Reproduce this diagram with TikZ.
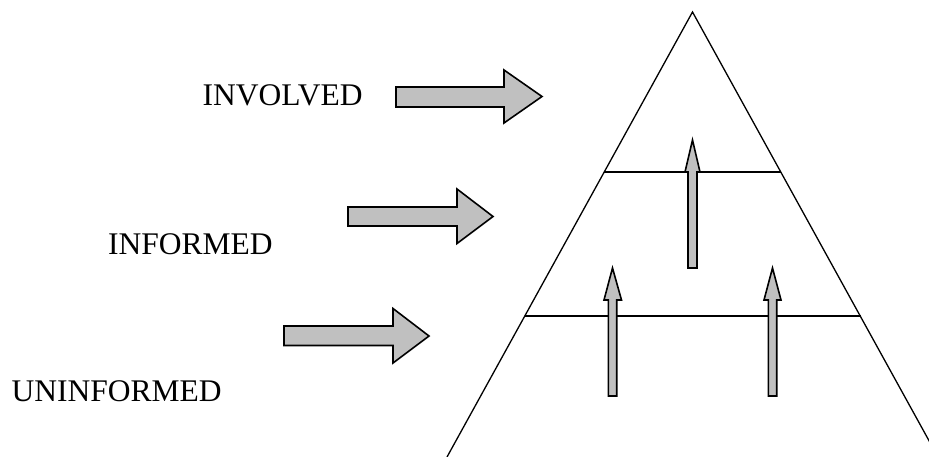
\documentclass[tikz,border=0pt]{standalone}
\usepackage{fontspec}
\setmainfont{Liberation Serif}
\definecolor{arrowgray}{HTML}{C0C0C0}
\tikzset{
  blockarrow/.style={draw=black, fill=arrowgray, line width=1.6pt, line join=miter},
  level/.style={draw=black, line width=1.3pt},
  tierlabel/.style={anchor=base west, inner sep=0pt, font=\fontsize{31.5}{36}\selectfont},
}
\begin{document}
\begin{tikzpicture}[x=1pt,y=-1pt]
\useasboundingbox (0,0) rectangle (929,457);

% pyramid outline and the two tier boundaries
\begin{scope}
  \clip (0,0) rectangle (929,457);
  \coordinate (apex) at (692.5,12);
  \coordinate (baseL) at (447,457);
  \coordinate (baseR) at (938,457);
  \draw[level] (baseL) -- (apex) -- (baseR);
  \coordinate (t1L) at (603.8,172);
  \coordinate (t1R) at (781.2,172);
  \coordinate (t2L) at (524.5,316);
  \coordinate (t2R) at (860.5,316);
  \draw[level] (t1L) -- (t1R);
  \draw[level] (t2L) -- (t2R);
\end{scope}

% block arrows pointing into the pyramid
\draw[blockarrow] (396,87) -- (504,87) -- (504,70) -- (542,96.5) -- (504,123) -- (504,107) -- (396,107) -- cycle;
\draw[blockarrow] (348,207) -- (457,207) -- (457,189) -- (493,216.5) -- (457,243.5) -- (457,226) -- (348,226) -- cycle;
\draw[blockarrow] (284,326) -- (393,326) -- (393,308.5) -- (429,336) -- (393,363) -- (393,345.5) -- (284,345.5) -- cycle;

% upward arrows between tiers
\draw[blockarrow] (688,268) -- (688,172) -- (685,172) -- (692.5,140) -- (700,172) -- (697,172) -- (697,268) -- cycle;
\draw[blockarrow] (608.3,396) -- (608.3,300) -- (604,300) -- (612.5,268) -- (621.5,300) -- (616.7,300) -- (616.7,396) -- cycle;
\draw[blockarrow] (768.3,396) -- (768.3,300) -- (764,300) -- (772.5,268) -- (781,300) -- (776.7,300) -- (776.7,396) -- cycle;

% tier labels
\node[tierlabel] (involved) at (202.5,106) {INVOLVED};
\node[tierlabel] (informed) at (108,254.3) {INFORMED};
\node[tierlabel] (uninformed) at (11.5,401) {UNINFORMED};
\end{tikzpicture}
\end{document}
